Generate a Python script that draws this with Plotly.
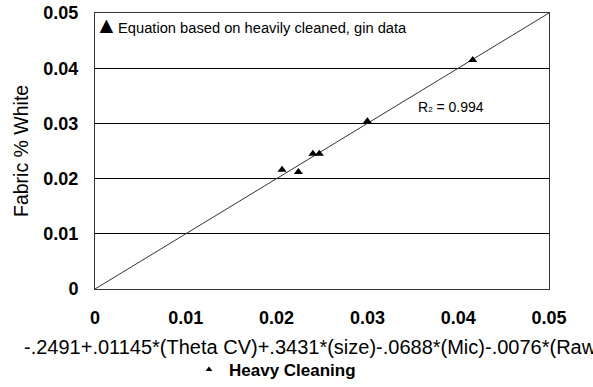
import plotly.graph_objects as go

# Data
pred = [0.0206, 0.0224, 0.0240, 0.0247, 0.0300, 0.0416]   # x: equation value
actual = [0.0216, 0.0212, 0.0245, 0.0245, 0.0304, 0.0415]  # y: Fabric % White
fit_x = [0.0, 0.05]
fit_y = [0.0, 0.05]
ticks = [0, 0.01, 0.02, 0.03, 0.04, 0.05]
tick_text = ["<b>0</b>", "<b>0.01</b>", "<b>0.02</b>", "<b>0.03</b>", "<b>0.04</b>", "<b>0.05</b>"]

W, H = 593, 387
L, R, T, B = 95, W - 549, 13, H - 289
pw = W - L - R
ph = H - T - B

FONT = "Liberation Sans, Arial, sans-serif"


def px(x):
    return (x - L) / pw


def py(y):
    return (H - B - y) / ph


fig = go.Figure()
fig.add_trace(go.Scatter(x=fit_x, y=fit_y, mode="lines",
                         line=dict(color="#333333", width=1),
                         showlegend=False, hoverinfo="skip"))
fig.add_trace(go.Scatter(x=pred, y=actual, mode="markers",
                         marker=dict(symbol="triangle-up", size=8, color="black"),
                         showlegend=False))
fig.add_trace(go.Scatter(x=[None], y=[None], mode="markers",
                         marker=dict(symbol="triangle-up", size=6, color="black"),
                         name="<b>Heavy Cleaning</b>", showlegend=True))

axis_common = dict(range=[0, 0.05], tickvals=ticks, ticktext=tick_text,
                   showline=True, linecolor="#333333", linewidth=1, mirror=True,
                   ticks="", zeroline=False,
                   tickfont=dict(family=FONT, size=18, color="black"))

fig.update_xaxes(**axis_common, showgrid=False, ticklabelstandoff=12)
fig.update_yaxes(**axis_common, showgrid=True, gridcolor="black", gridwidth=1,
                 ticklabelstandoff=12)

fig.update_layout(
    width=W, height=H,
    margin=dict(l=L, r=R, t=T, b=B, pad=0, autoexpand=False),
    plot_bgcolor="white", paper_bgcolor="white",
    font=dict(family=FONT, color="black"),
    showlegend=True,
    legend=dict(orientation="h", x=px(189), xanchor="left", y=py(370),
                yanchor="middle", font=dict(family=FONT, size=17, color="black"),
                bgcolor="rgba(0,0,0,0)", itemwidth=30),
    annotations=[
        dict(text="-.2491+.01145*(Theta CV)+.3431*(size)-.0688*(Mic)-.0076*(Raw",
             xref="paper", yref="paper", x=px(22), y=py(347),
             xanchor="left", yanchor="middle", showarrow=False,
             font=dict(family=FONT, size=20, color="black")),
        dict(text="Fabric % White", xref="paper", yref="paper",
             x=px(21), y=py(151), textangle=-90,
             xanchor="center", yanchor="middle", showarrow=False,
             font=dict(family=FONT, size=19.5, color="black")),
        dict(text="▲", xref="paper", yref="paper", x=px(106), y=py(25),
             xanchor="center", yanchor="middle", showarrow=False,
             font=dict(family=FONT, size=23, color="black")),
        dict(text="Equation based on heavily cleaned, gin data",
             xref="paper", yref="paper", x=px(116), y=py(28),
             xanchor="left", yanchor="middle", showarrow=False,
             font=dict(family=FONT, size=14.7, color="black")),
        dict(text="R<span style='font-size:8px'>2</span> = 0.994",
             xref="paper", yref="paper", x=px(416), y=py(107),
             xanchor="left", yanchor="middle", showarrow=False,
             font=dict(family=FONT, size=14, color="black")),
    ],
)

fig.write_html("out.html")
